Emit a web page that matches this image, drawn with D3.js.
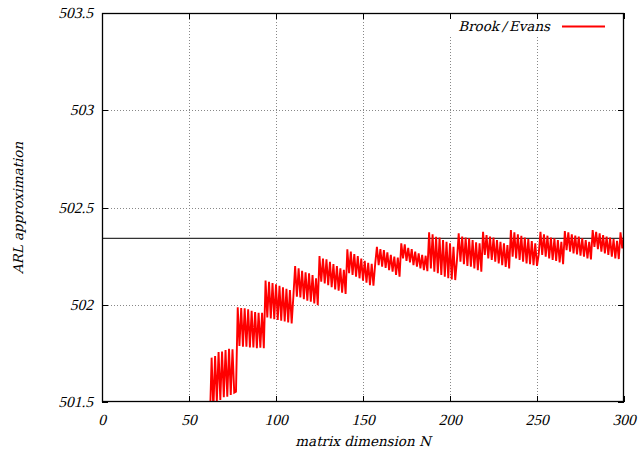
<!DOCTYPE html>
<html>
<head>
<meta charset="utf-8">
<script src="https://cdn.jsdelivr.net/npm/d3@7"></script>
<style>
  body { margin: 0; background: #fff; }
  svg { display: block; }
  .num { font-family: "Liberation Serif", serif; font-size: 15.5px; }
  .lab { font-family: "DejaVu Serif", "Liberation Serif", serif; font-size: 13.5px; }
</style>
</head>
<body>
<svg id="chart" width="641" height="450"></svg>
<script>
// axis ticks
var xTicks = [0, 50, 100, 150, 200, 250, 300]
var yTicks = [501.5, 502, 502.5, 503, 503.5]

// reference level (horizontal line)
var refLevel = 502.341

// Brook/Evans approximation, read off the picture block by block
var blockStartN = [62, 78, 94, 110, 125, 141, 157, 172, 188, 204, 219, 235, 251, 266, 282, 298]
var arlBlocks = [
  [501.40, 501.728, 501.46, 501.736, 501.501, 501.757, 501.51, 501.76, 501.524, 501.767, 501.527, 501.774, 501.536, 501.771, 501.548, 501.553],
  [501.987, 501.788, 501.983, 501.784, 501.982, 501.784, 501.977, 501.781, 501.969, 501.781, 501.963, 501.776, 501.959, 501.779, 501.958, 501.777],
  [502.125, 501.935, 502.118, 501.93, 502.112, 501.926, 502.105, 501.922, 502.098, 501.918, 502.09, 501.914, 502.082, 501.909, 502.075, 501.904],
  [502.045, 502.199, 502.041, 502.187, 502.038, 502.175, 502.028, 502.167, 502.021, 502.162, 502.016, 502.153, 502.007, 502.136, 501.998],
  [502.25, 502.118, 502.238, 502.11, 502.233, 502.101, 502.221, 502.09, 502.209, 502.079, 502.199, 502.072, 502.187, 502.062, 502.18, 502.055],
  [502.285, 502.162, 502.273, 502.153, 502.261, 502.144, 502.25, 502.136, 502.238, 502.124, 502.226, 502.114, 502.216, 502.101, 502.21, 502.098],
  [502.21, 502.298, 502.204, 502.286, 502.196, 502.281, 502.19, 502.27, 502.178, 502.256, 502.17, 502.247, 502.153, 502.242, 502.144],
  [502.316, 502.238, 502.31, 502.225, 502.293, 502.218, 502.286, 502.204, 502.273, 502.196, 502.264, 502.187, 502.256, 502.178, 502.252, 502.173],
  [502.372, 502.187, 502.362, 502.17, 502.35, 502.162, 502.345, 502.153, 502.333, 502.144, 502.324, 502.136, 502.316, 502.13, 502.298, 502.127],
  [502.23, 502.367, 502.221, 502.35, 502.208, 502.345, 502.2, 502.342, 502.196, 502.333, 502.187, 502.321, 502.178, 502.316, 502.17],
  [502.375, 502.256, 502.358, 502.238, 502.35, 502.23, 502.345, 502.221, 502.333, 502.213, 502.324, 502.204, 502.316, 502.195, 502.307, 502.187],
  [502.384, 502.247, 502.372, 502.238, 502.362, 502.23, 502.355, 502.221, 502.345, 502.213, 502.338, 502.208, 502.328, 502.204, 502.316, 502.2],
  [502.26, 502.375, 502.256, 502.362, 502.247, 502.355, 502.238, 502.345, 502.23, 502.342, 502.225, 502.333, 502.218, 502.324, 502.208],
  [502.379, 502.281, 502.372, 502.273, 502.362, 502.264, 502.355, 502.259, 502.35, 502.252, 502.341, 502.247, 502.333, 502.238, 502.324, 502.233],
  [502.384, 502.298, 502.375, 502.286, 502.367, 502.273, 502.358, 502.264, 502.35, 502.256, 502.345, 502.247, 502.338, 502.238, 502.328, 502.235],
  [502.372, 502.29, 502.355]
]

var series = []
arlBlocks.forEach((vals, b) => {
  vals.forEach((v, j) => series.push({n: blockStartN[b] + j, v: v}))
})

// plot frame in pixels
var pLeft = 102, pRight = 624, pTop = 13, pBottom = 402
var slant = "skewX(-14)"

var x = d3.scaleLinear().domain([0, 300]).range([pLeft, pRight])
var y = d3.scaleLinear().domain([501.5, 503.5]).range([pBottom, pTop])

var svg = d3.select("#chart")

svg.append("clipPath").attr("id", "clip")
  .append("rect")
  .attr("x", pLeft).attr("y", pTop)
  .attr("width", pRight - pLeft).attr("height", pBottom - pTop)

// grid
var grid = svg.append("g")
grid.selectAll("line.gx").data(xTicks.slice(1, -1)).enter().append("line")
  .attr("x1", d => Math.round(x(d)) + 0.5).attr("x2", d => Math.round(x(d)) + 0.5)
  .attr("y1", pTop).attr("y2", pBottom)
  .attr("stroke", "#888").attr("stroke-width", 1).attr("stroke-dasharray", "1,2")
grid.selectAll("line.gy").data(yTicks.slice(1, -1)).enter().append("line")
  .attr("x1", pLeft).attr("x2", pRight)
  .attr("y1", d => Math.round(y(d)) + 0.5).attr("y2", d => Math.round(y(d)) + 0.5)
  .attr("stroke", "#888").attr("stroke-width", 1).attr("stroke-dasharray", "1,2")

// legend background hides grid
svg.append("rect").attr("x", 440).attr("y", 17).attr("width", 180).attr("height", 18).attr("fill", "#fff")

// reference line
svg.append("line")
  .attr("x1", pLeft).attr("x2", pRight)
  .attr("y1", y(refLevel)).attr("y2", y(refLevel))
  .attr("stroke", "#333").attr("stroke-width", 1.2)

// data
var line = d3.line().x(d => x(d.n)).y(d => y(d.v))
svg.append("path")
  .datum(series)
  .attr("clip-path", "url(#clip)")
  .attr("d", line)
  .attr("fill", "none")
  .attr("stroke", "#ff0000")
  .attr("stroke-width", 1.9)
  .attr("stroke-linejoin", "miter")

// ticks (mirrored, inward)
var tk = svg.append("g").attr("stroke", "#000").attr("stroke-width", 1)
xTicks.forEach(t => {
  var px = Math.round(x(t)) + 0.5
  tk.append("line").attr("x1", px).attr("x2", px).attr("y1", pBottom).attr("y2", pBottom - 6)
  tk.append("line").attr("x1", px).attr("x2", px).attr("y1", pTop).attr("y2", pTop + 6)
})
yTicks.forEach(t => {
  var py = Math.round(y(t)) + 0.5
  tk.append("line").attr("x1", pLeft).attr("x2", pLeft + 6).attr("y1", py).attr("y2", py)
  tk.append("line").attr("x1", pRight).attr("x2", pRight - 6).attr("y1", py).attr("y2", py)
})

// frame
svg.append("rect")
  .attr("x", pLeft + 0.5).attr("y", pTop + 0.5)
  .attr("width", pRight - pLeft - 1).attr("height", pBottom - pTop - 1)
  .attr("fill", "none").attr("stroke", "#000").attr("stroke-width", 1.3)

// tick labels (slanted like math italic)
svg.selectAll("text.xt").data(xTicks).enter().append("text")
  .attr("class", "num")
  .attr("transform", d => "translate(" + x(d) + ",425) " + slant)
  .attr("text-anchor", "middle")
  .text(d => d)
svg.selectAll("text.yt").data(yTicks).enter().append("text")
  .attr("class", "num")
  .attr("transform", d => "translate(93," + (y(d) + 5) + ") " + slant)
  .attr("text-anchor", "end")
  .text(d => d)

// axis titles
svg.append("text").attr("class", "lab")
  .attr("transform", "translate(363,446) " + slant)
  .attr("text-anchor", "middle")
  .text("matrix dimension N")
svg.append("text").attr("class", "lab")
  .attr("transform", "translate(23,208) rotate(-90) " + slant)
  .attr("text-anchor", "middle")
  .text("ARL approximation")

// legend
svg.append("text").attr("class", "lab")
  .attr("transform", "translate(550,31) " + slant)
  .attr("text-anchor", "end")
  .text("Brook\u2009/\u2009Evans")
svg.append("line")
  .attr("x1", 562).attr("x2", 605).attr("y1", 26.5).attr("y2", 26.5)
  .attr("stroke", "#ff0000").attr("stroke-width", 1.9)
</script>
</body>
</html>
